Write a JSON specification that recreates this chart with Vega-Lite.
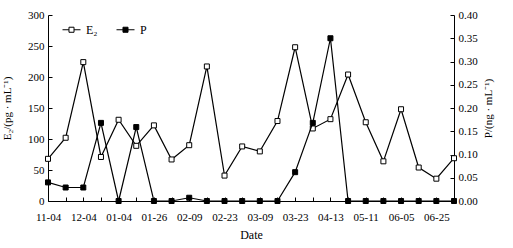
{
  "$schema": "https://vega.github.io/schema/vega-lite/v6.json",
  "width": 406,
  "height": 186,
  "autosize": "none",
  "padding": {"left": 48, "top": 15, "right": 59, "bottom": 47},
  "background": "white",
  "config": {
    "view": {"stroke": null},
    "font": "Liberation Serif",
    "axis": {
      "domainColor": "black", "tickColor": "black", "labelColor": "black", "titleColor": "black",
      "labelFont": "Liberation Serif", "titleFont": "Liberation Serif",
      "labelFontSize": 11, "titleFontSize": 11, "titleFontWeight": "normal",
      "grid": false, "tickSize": -4, "domainWidth": 1, "tickWidth": 1
    },
    "legend": {"labelFont": "Liberation Serif", "labelFontSize": 12, "labelColor": "black"}
  },
  "data": {"values": [
    {"i": 0, "E2": 68, "P": 0.040},
    {"i": 1, "E2": 102, "P": 0.029},
    {"i": 2, "E2": 224, "P": 0.029},
    {"i": 3, "E2": 71, "P": 0.168},
    {"i": 4, "E2": 131, "P": 0.000},
    {"i": 5, "E2": 89, "P": 0.159},
    {"i": 6, "E2": 122, "P": 0.000},
    {"i": 7, "E2": 67, "P": 0.000},
    {"i": 8, "E2": 90, "P": 0.007},
    {"i": 9, "E2": 217, "P": 0.000},
    {"i": 10, "E2": 41, "P": 0.000},
    {"i": 11, "E2": 88, "P": 0.000},
    {"i": 12, "E2": 80, "P": 0.000},
    {"i": 13, "E2": 129, "P": 0.000},
    {"i": 14, "E2": 248, "P": 0.062},
    {"i": 15, "E2": 117, "P": 0.168},
    {"i": 16, "E2": 132, "P": 0.350},
    {"i": 17, "E2": 204, "P": 0.000},
    {"i": 18, "E2": 127, "P": 0.000},
    {"i": 19, "E2": 64, "P": 0.000},
    {"i": 20, "E2": 148, "P": 0.000},
    {"i": 21, "E2": 54, "P": 0.000},
    {"i": 22, "E2": 36, "P": 0.000},
    {"i": 23, "E2": 69, "P": 0.000}
  ]},
  "encoding": {
    "x": {
      "field": "i", "type": "quantitative",
      "scale": {"domain": [0, 23], "nice": false, "zero": false},
      "axis": {
        "title": "Date", "titleFontSize": 12,
        "values": [0,1,2,3,4,5,6,7,8,9,10,11,12,13,14,15,16,17,18,19,20,21,22,23],
        "labelExpr": "['11-04','','12-04','','01-04','','01-26','','02-09','','02-23','','03-09','','03-23','','04-13','','05-11','','06-05','','06-25',''][datum.value]",
        "labelPadding": 14, "titlePadding": 7, "labelOverlap": false, "labelFlush": false
      }
    }
  },
  "layer": [
    {
      "encoding": {
        "y": {
          "field": "E2", "type": "quantitative",
          "scale": {"domain": [0, 300], "nice": false},
          "axis": {"orient": "left", "values": [0,50,100,150,200,250,300], "title": "E₂/(pg · mL⁻¹)", "labelPadding": 8, "titlePadding": 15}
        }
      },
      "layer": [
        {"mark": {"type": "line", "color": "black", "strokeWidth": 1.2}},
        {
          "mark": {"type": "point", "shape": "square", "size": 25, "filled": true, "stroke": "black", "strokeWidth": 1, "opacity": 1},
          "encoding": {
            "fill": {
              "datum": "E₂", "type": "nominal",
              "scale": {"domain": ["E₂", "P"], "range": ["white", "black"]},
              "legend": {
                "title": null, "orient": "none", "legendX": 14, "legendY": 5, "direction": "horizontal",
                "symbolType": "M-1,0H-0.28M0.28,0H1M-0.28,-0.28H0.28V0.28H-0.28Z",
                "symbolSize": 324, "labelOffset": 5, "columnPadding": 16,
                "symbolStrokeColor": "black", "symbolStrokeWidth": 1
              }
            }
          }
        }
      ]
    },
    {
      "encoding": {
        "y": {
          "field": "P", "type": "quantitative",
          "scale": {"domain": [0, 0.4], "nice": false},
          "axis": {"orient": "right", "values": [0,0.05,0.1,0.15,0.2,0.25,0.3,0.35,0.4], "format": ".2f", "title": "P/(ng · mL⁻¹)", "titleAngle": 270, "labelPadding": 8, "titlePadding": 16}
        }
      },
      "layer": [
        {"mark": {"type": "line", "color": "black", "strokeWidth": 1.2}},
        {
          "mark": {"type": "point", "shape": "square", "size": 25, "filled": true, "stroke": "black", "strokeWidth": 1, "opacity": 1},
          "encoding": {"fill": {"datum": "P", "type": "nominal"}}
        }
      ]
    }
  ],
  "resolve": {"scale": {"y": "independent"}}
}
